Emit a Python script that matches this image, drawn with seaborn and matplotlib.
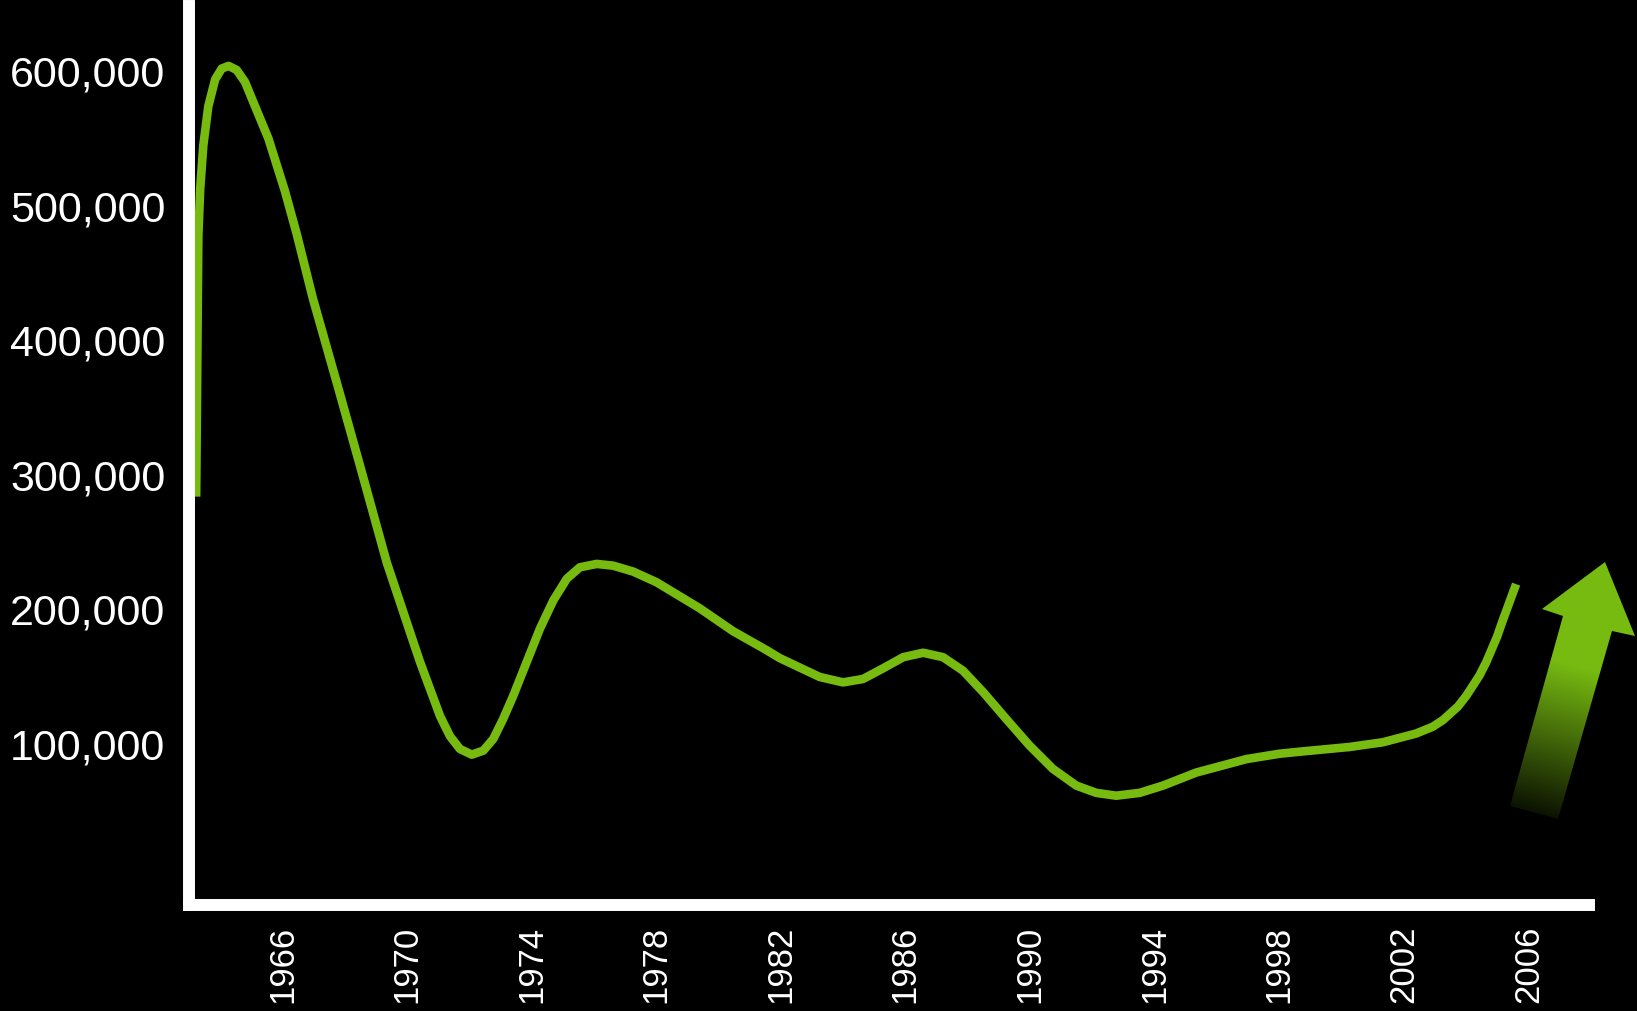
import numpy as np
import matplotlib
matplotlib.use("Agg")
import matplotlib.pyplot as plt
import matplotlib.ticker as mticker
from matplotlib.patches import Polygon
import seaborn as sns

# values (year, thousands)
years = [1963.23, 1963.30, 1963.36, 1963.46, 1963.62, 1963.84, 1964.05, 1964.27,
         1964.53, 1964.80, 1965.12, 1965.55, 1966.08, 1966.46, 1966.98, 1967.74,
         1968.49, 1969.35, 1970.10, 1970.42, 1970.74, 1971.06, 1971.38, 1971.70,
         1972.08, 1972.45, 1972.77, 1973.09, 1973.41, 1973.84, 1974.27, 1974.70,
         1975.13, 1975.55, 1976.09, 1976.62, 1977.26, 1978.01, 1979.40, 1980.47,
         1981.54, 1981.97, 1982.61, 1983.25, 1984.00, 1984.64, 1985.29, 1985.93,
         1986.57, 1987.21, 1987.85, 1988.50, 1989.24, 1989.99, 1990.74, 1991.49,
         1992.13, 1992.77, 1993.52, 1994.27, 1995.34, 1996.95, 1998.02, 1998.66,
         2000.26, 2001.33, 2002.40, 2002.93, 2003.26, 2003.74, 2004.01, 2004.43,
         2004.65, 2005.00, 2005.18, 2005.61]
values_k = [283, 477, 512, 544, 573, 593, 601, 603,
            600, 591, 573, 549, 510, 478, 430, 368,
            306, 234, 182, 160, 140, 120, 105, 95.5,
            91.3, 94.3, 103, 118, 135, 160, 185, 206,
            222, 230.5, 233, 231.7, 227.3, 219.4, 200, 183,
            169, 163, 156, 149, 145, 147.5, 155.5, 163.7,
            167, 163.7, 153.7, 137.7, 117.8, 98, 80.7, 68.3,
            62.9, 60.8, 62.9, 68.3, 78, 88, 92, 93.5,
            97, 100.5, 107, 112, 117, 127, 135, 150,
            160, 179, 191, 218]
values = [v * 1000 for v in values_k]

x_ticks = list(range(1966, 2007, 4))
y_ticks = [100000, 200000, 300000, 400000, 500000, 600000]

green = "#77BB11"

sns.set_style("dark", {"axes.facecolor": "black", "figure.facecolor": "black",
                       "axes.edgecolor": "white", "axes.grid": False})
plt.rcParams["font.family"] = ["Liberation Sans", "DejaVu Sans"]

fig = plt.figure(figsize=(16.37, 10.12), dpi=100)
ax = fig.add_axes([189 / 1637, 1 - 906 / 1012, (1589 - 189) / 1637, (906 - 7) / 1012])

sns.lineplot(x=years, y=values, color=green, linewidth=6.2, ax=ax,
             solid_capstyle="butt", solid_joinstyle="round")

ax.set_xlim(1963.0, 2007.95)
ax.set_ylim(-20400, 647500)
ax.set_xticks(x_ticks)
ax.set_yticks(y_ticks)
ax.yaxis.set_major_formatter(mticker.StrMethodFormatter("{x:,.0f}"))
ax.tick_params(axis="x", length=0, pad=14, labelsize=25, colors="white", labelrotation=90)
ax.tick_params(axis="y", length=0, pad=17, labelsize=31, colors="white")
ax.set_xlabel("")
ax.set_ylabel("")
for side in ["top", "right"]:
    ax.spines[side].set_visible(False)
for side in ["left", "bottom"]:
    ax.spines[side].set_color("white")
    ax.spines[side].set_linewidth(8.6)
    ax.spines[side].set_capstyle("projecting")
ax.spines["left"].set_zorder(3)

# gradient arrow on the right
ov = fig.add_axes([0, 0, 1, 1], zorder=5)
ov.axis("off")
ov.patch.set_alpha(0)
arrow_pts = [(1605, 563), (1635, 637), (1612, 632), (1558, 820),
             (1510, 807), (1563, 617), (1542, 610)]
poly = Polygon(arrow_pts, closed=True, facecolor="none", edgecolor="none")
ov.add_patch(poly)
x0, x1, y0, y1 = 1500, 1637, 555, 825
gx, gy = np.meshgrid(np.linspace(x0, x1, 200), np.linspace(y0, y1, 300))
base = np.array([1534, 813])
d = np.array([1605, 563]) - base
t = ((gx - base[0]) * d[0] + (gy - base[1]) * d[1]) / (d @ d)
b = np.clip(0.1 + t / 0.65, 0, 1)
rgb = np.array(matplotlib.colors.to_rgb(green))
img = b[..., None] * rgb[None, None, :]
im = ov.imshow(img, extent=(x0, x1, y1, y0), origin="upper", aspect="auto",
               interpolation="bilinear")
im.set_clip_path(poly)
ov.set_xlim(0, 1637)
ov.set_ylim(1012, 0)

fig.savefig("out.png", dpi=100, facecolor="black")
